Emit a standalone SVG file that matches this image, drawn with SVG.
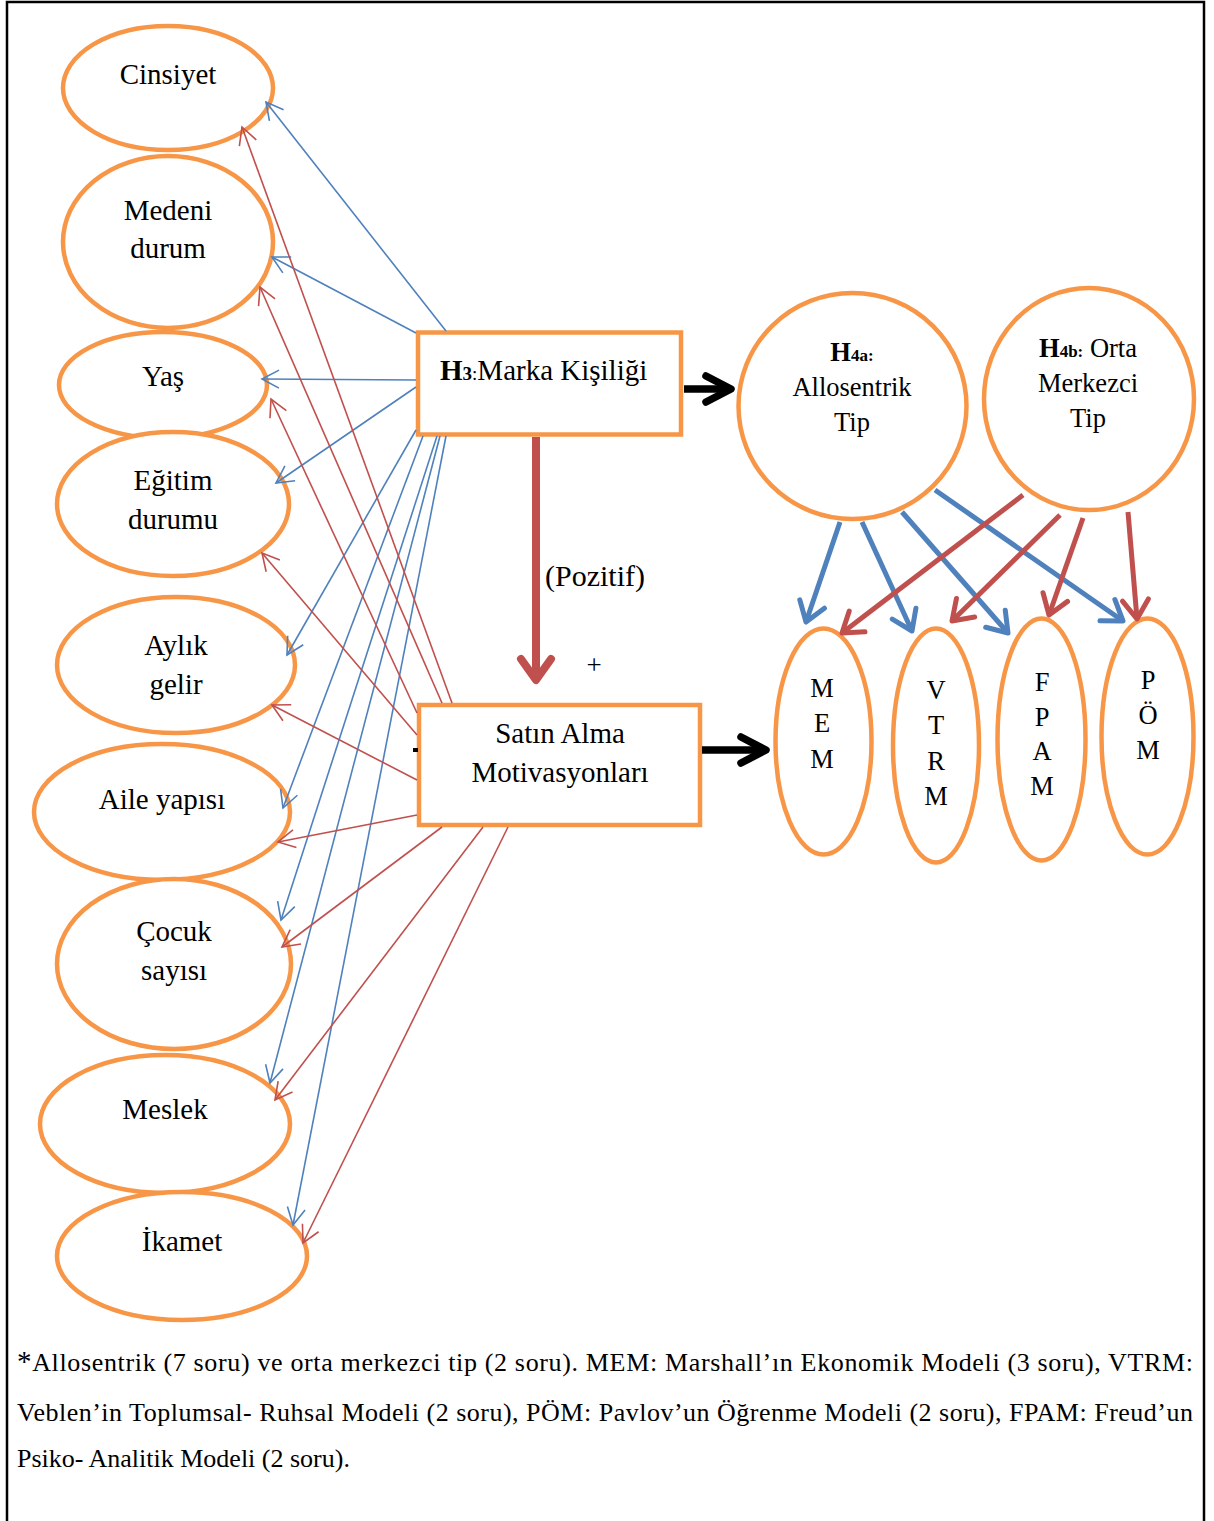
<svg xmlns="http://www.w3.org/2000/svg" width="1214" height="1521" viewBox="0 0 1214 1521">
<style>
text{font-family:"Liberation Serif","Times New Roman",serif;fill:#000}
.n{fill:#fff;stroke:#F79646;stroke-width:4.5}
.lbl{font-size:29px;text-anchor:middle}
.cl{font-size:26.5px;text-anchor:middle}
.tb{fill:none;stroke:#4F81BD;stroke-width:1.6}
.tr{fill:none;stroke:#C0504D;stroke-width:1.6}
.kb{fill:none;stroke:#4F81BD;stroke-width:5}
.kr{fill:none;stroke:#C0504D;stroke-width:5}
.ft{font-size:26px}
</style>
<defs>
<marker id="mtb" markerUnits="userSpaceOnUse" markerWidth="40" markerHeight="40" viewBox="-30 -20 40 40" refX="0" refY="0" orient="auto" overflow="visible"><path d="M-17,-9 L0,0 L-17,9" fill="none" stroke="#4F81BD" stroke-width="1.6"/></marker>
<marker id="mtr" markerUnits="userSpaceOnUse" markerWidth="40" markerHeight="40" viewBox="-30 -20 40 40" refX="0" refY="0" orient="auto" overflow="visible"><path d="M-17,-9 L0,0 L-17,9" fill="none" stroke="#C0504D" stroke-width="1.6"/></marker>
<marker id="mkb" markerUnits="userSpaceOnUse" markerWidth="60" markerHeight="60" viewBox="-40 -30 60 60" refX="0" refY="0" orient="auto" overflow="visible"><path d="M-19,-13 L0,0 L-19,13" fill="none" stroke="#4F81BD" stroke-width="5" stroke-linecap="round" stroke-linejoin="round"/></marker>
<marker id="mkr" markerUnits="userSpaceOnUse" markerWidth="60" markerHeight="60" viewBox="-40 -30 60 60" refX="0" refY="0" orient="auto" overflow="visible"><path d="M-19,-13 L0,0 L-19,13" fill="none" stroke="#C0504D" stroke-width="5" stroke-linecap="round" stroke-linejoin="round"/></marker>
<marker id="mbr" markerUnits="userSpaceOnUse" markerWidth="80" markerHeight="80" viewBox="-50 -40 80 80" refX="0" refY="0" orient="auto" overflow="visible"><path d="M-21,-15 L0,0 L-21,15" fill="none" stroke="#C0504D" stroke-width="8" stroke-linecap="round" stroke-linejoin="round"/></marker>
<marker id="mbk" markerUnits="userSpaceOnUse" markerWidth="80" markerHeight="80" viewBox="-50 -40 80 80" refX="0" refY="0" orient="auto" overflow="visible"><path d="M-25,-13 L0,0 L-25,13" fill="none" stroke="#000" stroke-width="7.5" stroke-linecap="round" stroke-linejoin="round"/></marker>
</defs>
<rect x="0" y="0" width="1214" height="1521" fill="#fff"/>
<path d="M7,1521 V2 H1204 V1521" fill="none" stroke="#000" stroke-width="2.5"/>

<g id="cinsiyet"><ellipse class="n" cx="168" cy="88" rx="105" ry="62"/><text class="lbl" x="168" y="84">Cinsiyet</text></g>
<g id="medeni-durum"><ellipse class="n" cx="168" cy="242" rx="105" ry="86"/><text class="lbl" x="168" y="220">Medeni</text><text class="lbl" x="168" y="258">durum</text></g>
<g id="yas"><ellipse class="n" cx="163" cy="385" rx="104" ry="53"/><text class="lbl" x="163" y="386">Yaş</text></g>
<g id="egitim-durumu"><ellipse class="n" cx="173" cy="504" rx="116" ry="72"/><text class="lbl" x="173" y="490">Eğitim</text><text class="lbl" x="173" y="529">durumu</text></g>
<g id="aylik-gelir"><ellipse class="n" cx="176" cy="665" rx="119" ry="68"/><text class="lbl" x="176" y="655">Aylık</text><text class="lbl" x="176" y="694">gelir</text></g>
<g id="aile-yapisi"><ellipse class="n" cx="162" cy="812" rx="128" ry="68"/><text class="lbl" x="162" y="809">Aile yapısı</text></g>
<g id="cocuk-sayisi"><ellipse class="n" cx="174" cy="964" rx="117" ry="85"/><text class="lbl" x="174" y="941">Çocuk</text><text class="lbl" x="174" y="980">sayısı</text></g>
<g id="meslek"><ellipse class="n" cx="165" cy="1124" rx="125" ry="69"/><text class="lbl" x="165" y="1119">Meslek</text></g>
<g id="ikamet"><ellipse class="n" cx="182" cy="1256" rx="125" ry="64"/><text class="lbl" x="182" y="1251">İkamet</text></g>

<g id="marka-kisiligi"><rect class="n" x="418" y="332.5" width="263" height="102"/><text x="440" y="380" style="font-size:29px"><tspan font-weight="bold">H</tspan><tspan font-weight="bold" font-size="19px">3</tspan><tspan font-size="19px">:</tspan>Marka Kişiliği</text></g>
<g id="satin-alma"><rect class="n" x="419" y="705" width="281" height="120"/><text class="lbl" x="560" y="743">Satın Alma</text><text class="lbl" x="560" y="782">Motivasyonları</text></g>

<g id="allosentrik"><ellipse class="n" cx="852.5" cy="406" rx="114" ry="113"/><text class="cl" x="852" y="361"><tspan font-weight="bold">H</tspan><tspan font-weight="bold" font-size="17px">4a:</tspan></text><text class="cl" x="852" y="396">Allosentrik</text><text class="cl" x="852" y="431">Tip</text></g>
<g id="orta-merkezci"><ellipse class="n" cx="1089" cy="399" rx="105" ry="111"/><text class="cl" x="1088" y="357"><tspan font-weight="bold">H</tspan><tspan font-weight="bold" font-size="17px">4b:</tspan> Orta</text><text class="cl" x="1088" y="392">Merkezci</text><text class="cl" x="1088" y="427">Tip</text></g>

<g id="mem"><ellipse class="n" cx="823.5" cy="741.5" rx="48" ry="113"/><text class="cl" x="822" y="697">M</text><text class="cl" x="822" y="732">E</text><text class="cl" x="822" y="768">M</text></g>
<g id="vtrm"><ellipse class="n" cx="936" cy="745.5" rx="43" ry="117"/><text class="cl" x="936" y="699">V</text><text class="cl" x="936" y="734">T</text><text class="cl" x="936" y="770">R</text><text class="cl" x="936" y="805">M</text></g>
<g id="fpam"><ellipse class="n" cx="1041.5" cy="739.5" rx="44" ry="121"/><text class="cl" x="1042" y="691">F</text><text class="cl" x="1042" y="726">P</text><text class="cl" x="1042" y="760">A</text><text class="cl" x="1042" y="795">M</text></g>
<g id="pom"><ellipse class="n" cx="1147.5" cy="736.5" rx="46" ry="118"/><text class="cl" x="1148" y="689">P</text><text class="cl" x="1148" y="724">Ö</text><text class="cl" x="1148" y="759">M</text></g>

<g id="connectors">
<line class="tb" x1="446" y1="331" x2="266" y2="102" marker-end="url(#mtb)"/>
<line class="tb" x1="416" y1="333" x2="272" y2="257" marker-end="url(#mtb)"/>
<line class="tb" x1="416" y1="380" x2="262" y2="379" marker-end="url(#mtb)"/>
<line class="tb" x1="416" y1="387" x2="276" y2="483" marker-end="url(#mtb)"/>
<line class="tb" x1="416" y1="430" x2="287" y2="655" marker-end="url(#mtb)"/>
<line class="tb" x1="423" y1="436" x2="283" y2="808" marker-end="url(#mtb)"/>
<line class="tb" x1="437" y1="436" x2="281" y2="920" marker-end="url(#mtb)"/>
<line class="tb" x1="440" y1="436" x2="270" y2="1083" marker-end="url(#mtb)"/>
<line class="tb" x1="446" y1="436" x2="293" y2="1225" marker-end="url(#mtb)"/>

<line class="tr" x1="452" y1="703" x2="242" y2="127" marker-end="url(#mtr)"/>
<line class="tr" x1="442" y1="703" x2="260" y2="287" marker-end="url(#mtr)"/>
<line class="tr" x1="417" y1="713" x2="271" y2="399" marker-end="url(#mtr)"/>
<line class="tr" x1="417" y1="735" x2="262" y2="553" marker-end="url(#mtr)"/>
<line class="tr" x1="417" y1="780" x2="272" y2="705" marker-end="url(#mtr)"/>
<line class="tr" x1="417" y1="815" x2="278" y2="842" marker-end="url(#mtr)"/>
<line class="tr" x1="442" y1="827" x2="282" y2="947" marker-end="url(#mtr)"/>
<line class="tr" x1="483" y1="827" x2="275" y2="1100" marker-end="url(#mtr)"/>
<line class="tr" x1="508" y1="827" x2="303" y2="1243" marker-end="url(#mtr)"/>

<line x1="536" y1="437" x2="536" y2="680" stroke="#C0504D" stroke-width="8" marker-end="url(#mbr)"/>
<line x1="684" y1="389" x2="731" y2="389" stroke="#000" stroke-width="7.5" marker-end="url(#mbk)"/>
<line x1="702" y1="750" x2="766" y2="750" stroke="#000" stroke-width="7.5" marker-end="url(#mbk)"/>
<line x1="413" y1="750" x2="418" y2="750" stroke="#000" stroke-width="4"/>

<line class="kb" x1="840" y1="522" x2="806" y2="622" marker-end="url(#mkb)"/>
<line class="kb" x1="862" y1="522" x2="912" y2="631" marker-end="url(#mkb)"/>
<line class="kb" x1="902" y1="512" x2="1008" y2="633" marker-end="url(#mkb)"/>
<line class="kb" x1="935" y1="490" x2="1123" y2="621" marker-end="url(#mkb)"/>
<line class="kr" x1="1023" y1="495" x2="842" y2="633" marker-end="url(#mkr)"/>
<line class="kr" x1="1060" y1="515" x2="952" y2="621" marker-end="url(#mkr)"/>
<line class="kr" x1="1083" y1="518" x2="1049" y2="615" marker-end="url(#mkr)"/>
<line class="kr" x1="1128" y1="512" x2="1137" y2="619" marker-end="url(#mkr)"/>
</g>

<text x="545" y="586" style="font-size:30px">(Pozitif)</text>
<text x="594" y="674" style="font-size:27px;text-anchor:middle">+</text>

<text class="ft" x="17" y="1371" textLength="1176" lengthAdjust="spacing"><tspan font-size="29px">*</tspan>Allosentrik (7 soru) ve orta merkezci tip (2 soru). MEM: Marshall’ın Ekonomik Modeli (3 soru), VTRM:</text>
<text class="ft" x="17" y="1421" textLength="1176" lengthAdjust="spacing">Veblen’in Toplumsal- Ruhsal Modeli (2 soru), PÖM: Pavlov’un Öğrenme Modeli (2 soru), FPAM: Freud’un</text>
<text class="ft" x="17" y="1467">Psiko- Analitik Modeli (2 soru).</text>
</svg>
